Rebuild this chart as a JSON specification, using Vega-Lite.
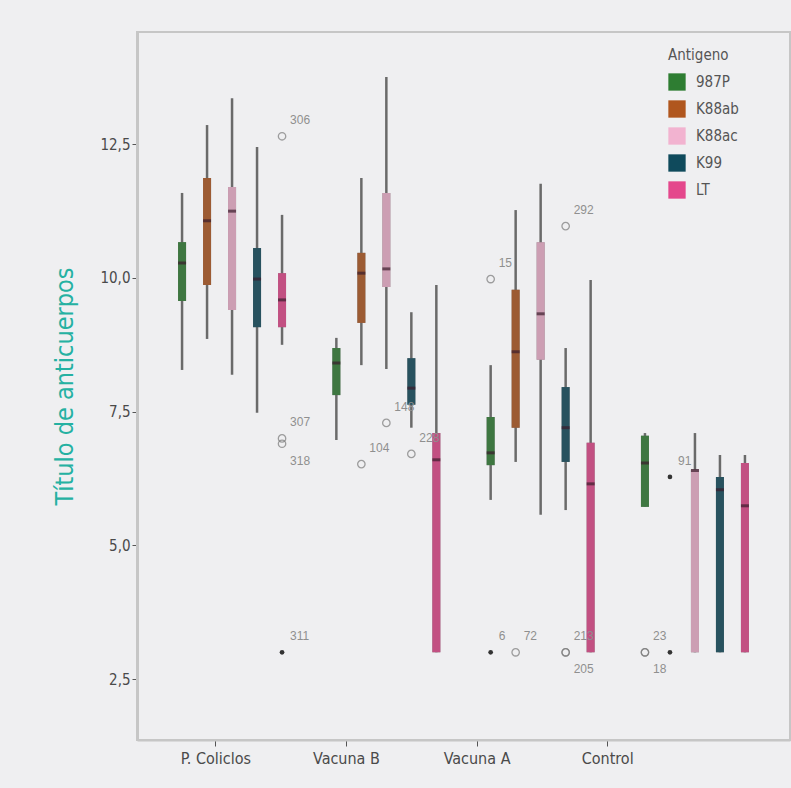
{
  "$schema": "https://vega.github.io/schema/vega-lite/v6.json",
  "width": 653,
  "height": 708,
  "autosize": "none",
  "padding": {"left": 137, "top": 32, "right": 1, "bottom": 48},
  "background": "#efeff1",
  "config": {
    "view": {"stroke": "#c6c6c6", "strokeWidth": 2, "fill": "#efeff1"},
    "font": "'DejaVu Sans Condensed', Roboto, sans-serif",
    "axis": {"grid": false, "domainColor": "#c6c6c6", "domainWidth": 2, "tickColor": "#555555", "tickSize": 5, "labelColor": "#4a4a4a", "labelFontSize": 15, "labelFont": "'DejaVu Sans Condensed', Roboto, sans-serif"},
    "legend": {"labelFont": "'DejaVu Sans Condensed', Roboto, sans-serif", "titleFont": "'DejaVu Sans Condensed', Roboto, sans-serif"}
  },
  "datasets": {
    "cajas": [
      {"grupo": "P. Coliclos", "antigeno": "987P", "inferior": 8.28, "q1": 9.57, "mediana": 10.28, "q3": 10.67, "superior": 11.59},
      {"grupo": "P. Coliclos", "antigeno": "K88ab", "inferior": 8.86, "q1": 9.87, "mediana": 11.07, "q3": 11.87, "superior": 12.86},
      {"grupo": "P. Coliclos", "antigeno": "K88ac", "inferior": 8.19, "q1": 9.4, "mediana": 11.25, "q3": 11.7, "superior": 13.36},
      {"grupo": "P. Coliclos", "antigeno": "K99", "inferior": 7.48, "q1": 9.08, "mediana": 9.98, "q3": 10.56, "superior": 12.45},
      {"grupo": "P. Coliclos", "antigeno": "LT", "inferior": 8.75, "q1": 9.08, "mediana": 9.59, "q3": 10.09, "superior": 11.18},
      {"grupo": "Vacuna B", "antigeno": "987P", "inferior": 6.97, "q1": 7.81, "mediana": 8.41, "q3": 8.69, "superior": 8.88},
      {"grupo": "Vacuna B", "antigeno": "K88ab", "inferior": 8.37, "q1": 9.16, "mediana": 10.09, "q3": 10.47, "superior": 11.87},
      {"grupo": "Vacuna B", "antigeno": "K88ac", "inferior": 8.3, "q1": 9.83, "mediana": 10.17, "q3": 11.59, "superior": 13.76},
      {"grupo": "Vacuna B", "antigeno": "K99", "inferior": 7.2, "q1": 7.63, "mediana": 7.94, "q3": 8.5, "superior": 9.36},
      {"grupo": "Vacuna B", "antigeno": "LT", "inferior": 3.0, "q1": 3.0, "mediana": 6.6, "q3": 7.1, "superior": 9.87},
      {"grupo": "Vacuna A", "antigeno": "987P", "inferior": 5.85, "q1": 6.5, "mediana": 6.73, "q3": 7.4, "superior": 8.37},
      {"grupo": "Vacuna A", "antigeno": "K88ab", "inferior": 6.56, "q1": 7.2, "mediana": 8.62, "q3": 9.78, "superior": 11.27},
      {"grupo": "Vacuna A", "antigeno": "K88ac", "inferior": 5.57, "q1": 8.47, "mediana": 9.33, "q3": 10.67, "superior": 11.76},
      {"grupo": "Vacuna A", "antigeno": "K99", "inferior": 5.66, "q1": 6.56, "mediana": 7.2, "q3": 7.96, "superior": 8.69},
      {"grupo": "Vacuna A", "antigeno": "LT", "inferior": 3.0, "q1": 3.0, "mediana": 6.15, "q3": 6.92, "superior": 9.96},
      {"grupo": "Control", "antigeno": "987P", "inferior": 5.72, "q1": 5.72, "mediana": 6.54, "q3": 7.05, "superior": 7.1},
      {"grupo": "Control", "antigeno": "K88ac", "inferior": 3.0, "q1": 3.0, "mediana": 6.4, "q3": 6.42, "superior": 7.1},
      {"grupo": "Control", "antigeno": "K99", "inferior": 3.0, "q1": 3.0, "mediana": 6.04, "q3": 6.28, "superior": 6.69},
      {"grupo": "Control", "antigeno": "LT", "inferior": 3.0, "q1": 3.0, "mediana": 5.74, "q3": 6.54, "superior": 6.69}
    ],
    "atipicos": [
      {"grupo": "P. Coliclos", "antigeno": "LT", "valor": 12.65, "caso": "306", "tipo": "atipico", "etiqueta": "arriba"},
      {"grupo": "P. Coliclos", "antigeno": "LT", "valor": 7.0, "caso": "307", "tipo": "atipico", "etiqueta": "arriba"},
      {"grupo": "P. Coliclos", "antigeno": "LT", "valor": 6.9, "caso": "318", "tipo": "atipico", "etiqueta": "abajo"},
      {"grupo": "P. Coliclos", "antigeno": "LT", "valor": 3.0, "caso": "311", "tipo": "extremo", "etiqueta": "arriba"},
      {"grupo": "Vacuna B", "antigeno": "K88ab", "valor": 6.52, "caso": "104", "tipo": "atipico", "etiqueta": "arriba"},
      {"grupo": "Vacuna B", "antigeno": "K88ac", "valor": 7.29, "caso": "148", "tipo": "atipico", "etiqueta": "arriba"},
      {"grupo": "Vacuna B", "antigeno": "K99", "valor": 6.71, "caso": "228", "tipo": "atipico", "etiqueta": "arriba"},
      {"grupo": "Vacuna A", "antigeno": "987P", "valor": 9.98, "caso": "15", "tipo": "atipico", "etiqueta": "arriba"},
      {"grupo": "Vacuna A", "antigeno": "987P", "valor": 3.0, "caso": "6", "tipo": "extremo", "etiqueta": "arriba"},
      {"grupo": "Vacuna A", "antigeno": "K88ab", "valor": 3.0, "caso": "72", "tipo": "atipico", "etiqueta": "arriba"},
      {"grupo": "Vacuna A", "antigeno": "K99", "valor": 10.97, "caso": "292", "tipo": "atipico", "etiqueta": "arriba"},
      {"grupo": "Vacuna A", "antigeno": "K99", "valor": 3.0, "caso": "213", "tipo": "atipico", "etiqueta": "arriba"},
      {"grupo": "Vacuna A", "antigeno": "K99", "valor": 3.0, "caso": "205", "tipo": "atipico", "etiqueta": "abajo"},
      {"grupo": "Control", "antigeno": "987P", "valor": 3.0, "caso": "23", "tipo": "atipico", "etiqueta": "arriba"},
      {"grupo": "Control", "antigeno": "987P", "valor": 3.0, "caso": "18", "tipo": "atipico", "etiqueta": "abajo"},
      {"grupo": "Control", "antigeno": "K88ab", "valor": 6.28, "caso": "91", "tipo": "extremo", "etiqueta": "arriba"},
      {"grupo": "Control", "antigeno": "K88ab", "valor": 3.0, "caso": "", "tipo": "extremo", "etiqueta": "ninguna"}
    ],
    "grupos": [
      {"grupo": "P. Coliclos"}, {"grupo": "Vacuna B"}, {"grupo": "Vacuna A"}, {"grupo": "Control"}
    ]
  },
  "layer": [
    {
      "encoding": {
        "x": {"field": "grupo", "type": "nominal", "sort": ["P. Coliclos", "Vacuna B", "Vacuna A", "Control"], "scale": {"type": "band", "paddingInner": 0.19, "paddingOuter": 0.211}, "axis": null},
        "xOffset": {"field": "antigeno", "type": "nominal", "sort": ["987P", "K88ab", "K88ac", "K99", "LT"], "scale": {"paddingInner": 0, "paddingOuter": 0}}
      },
      "layer": [
        {
          "data": {"name": "cajas"},
          "mark": {"type": "rule", "color": "#6a6a6a", "strokeWidth": 2.5},
          "encoding": {
            "y": {"field": "inferior", "type": "quantitative", "scale": {"domain": [1.36, 14.6], "nice": false, "zero": false},
              "axis": {"values": [2.5, 5, 7.5, 10, 12.5], "labelExpr": "replace(format(datum.value, '.1f'), '.', ',')", "title": "Título de anticuerpos", "titleColor": "#25b1a2", "titleFontSize": 25, "titleFontWeight": "normal", "titleFont": "'DejaVu Sans Condensed', Roboto, sans-serif", "titlePadding": 22, "domainWidth": 3}},
            "y2": {"field": "superior"}
          }
        },
        {
          "data": {"name": "cajas"},
          "mark": {"type": "bar", "size": 8, "color": "#6a6a6a"},
          "encoding": {
            "y": {"field": "q1", "type": "quantitative"},
            "y2": {"field": "q3"}
          }
        },
        {
          "data": {"name": "cajas"},
          "mark": {"type": "bar", "size": 8, "opacity": 0.72},
          "encoding": {
            "y": {"field": "q1", "type": "quantitative"},
            "y2": {"field": "q3"},
            "color": {"field": "antigeno", "type": "nominal", "sort": ["987P", "K88ab", "K88ac", "K99", "LT"],
              "scale": {"domain": ["987P", "K88ab", "K88ac", "K99", "LT"], "range": ["#2e7d32", "#b0561e", "#f2b3d0", "#0f4a5c", "#e4478c"]},
              "legend": {"orient": "none", "legendX": 531, "legendY": 16, "title": "Antigeno", "titleFontSize": 15, "titleFontWeight": "normal", "titleColor": "#555555", "labelFontSize": 15, "labelColor": "#555555", "symbolType": "square", "symbolSize": 300, "symbolOpacity": 1, "symbolStrokeWidth": 0, "rowPadding": 9, "labelOffset": 10, "titlePadding": 10}}
          }
        },
        {
          "data": {"name": "cajas"},
          "mark": {"type": "tick", "size": 8, "thickness": 3, "color": "#3a1c2c"},
          "encoding": {
            "y": {"field": "mediana", "type": "quantitative"}
          }
        },
        {
          "data": {"name": "atipicos"},
          "transform": [{"filter": "datum.tipo == 'atipico'"}],
          "mark": {"type": "point", "shape": "circle", "filled": false, "size": 55, "stroke": "#7a7a7a", "strokeWidth": 1.3},
          "encoding": {"y": {"field": "valor", "type": "quantitative"}}
        },
        {
          "data": {"name": "atipicos"},
          "transform": [{"filter": "datum.tipo == 'extremo'"}],
          "mark": {"type": "point", "shape": "circle", "filled": true, "size": 22, "color": "#333333", "opacity": 1},
          "encoding": {"y": {"field": "valor", "type": "quantitative"}}
        },
        {
          "data": {"name": "atipicos"},
          "transform": [{"filter": "datum.etiqueta == 'arriba'"}],
          "mark": {"type": "text", "align": "left", "baseline": "middle", "dx": 8, "dy": -16, "fontSize": 12, "color": "#8f8f8f", "font": "Liberation Sans"},
          "encoding": {"y": {"field": "valor", "type": "quantitative"}, "text": {"field": "caso"}}
        },
        {
          "data": {"name": "atipicos"},
          "transform": [{"filter": "datum.etiqueta == 'abajo'"}],
          "mark": {"type": "text", "align": "left", "baseline": "middle", "dx": 8, "dy": 17, "fontSize": 12, "color": "#8f8f8f", "font": "Liberation Sans"},
          "encoding": {"y": {"field": "valor", "type": "quantitative"}, "text": {"field": "caso"}}
        }
      ]
    },
    {
      "data": {"name": "grupos"},
      "mark": {"type": "point", "opacity": 0},
      "encoding": {
        "x": {"field": "grupo", "type": "nominal", "sort": ["P. Coliclos", "Vacuna B", "Vacuna A", "Control"], "scale": {"type": "point", "padding": 1.085, "align": 0.3},
          "axis": {"orient": "bottom", "title": null, "labelAngle": 0, "tickSize": 6, "labelPadding": 4, "labelFontSize": 16}}
      }
    }
  ],
  "resolve": {"scale": {"x": "independent"}}
}
